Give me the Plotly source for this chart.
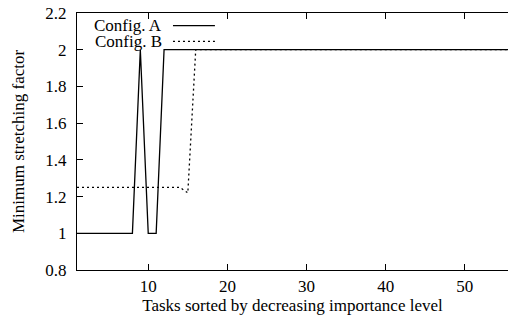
import plotly.graph_objects as go

tasks = list(range(1, 57))
config_a = [1]*8 + [2, 1, 1] + [2]*45
config_b = [1.25]*14 + [1.22] + [2]*41
series_names = ["Config. A", "Config. B"]
x_ticks = [10, 20, 30, 40, 50]
y_ticks = [0.8, 1.0, 1.2, 1.4, 1.6, 1.8, 2.0, 2.2]
y_tick_labels = ["0.8", "1", "1.2", "1.4", "1.6", "1.8", "2", "2.2"]

FONT = "Liberation Serif"
FS = 17

fig = go.Figure()
fig.add_trace(go.Scatter(x=tasks, y=config_a, mode="lines", name=series_names[0],
                         line=dict(color="black", width=1.3), showlegend=False))
fig.add_trace(go.Scatter(x=tasks, y=config_b, mode="lines", name=series_names[1],
                         line=dict(color="black", width=1.3, dash="2px,3px"), showlegend=False))

# manual gnuplot-style legend (text left, sample right)
leg_y = [0.9506, 0.8899]
for name, yy, dash in zip(series_names, leg_y, ["solid", "2px,3px"]):
    fig.add_annotation(x=0.2019, y=yy, xref="paper", yref="paper", text=name,
                       showarrow=False, xanchor="right", yanchor="middle",
                       font=dict(family=FONT, size=FS, color="black"))
    fig.add_shape(type="line", xref="paper", yref="paper", x0=0.2227, x1=0.320,
                  y0=yy, y1=yy, line=dict(color="black", width=1.3, dash=dash))

fig.update_layout(
    width=508, height=320,
    margin=dict(l=77, r=0, t=13, b=50),
    plot_bgcolor="white", paper_bgcolor="white",
    font=dict(family=FONT, size=FS, color="black"),
)
fig.update_xaxes(range=[1, 55.45], tickvals=x_ticks, ticks="inside", ticklen=6,
                 tickcolor="black", showline=True, linecolor="black", linewidth=1.3,
                 mirror="ticks", showgrid=False, zeroline=False, automargin=False,
                 title=dict(text="Tasks sorted by decreasing importance level", standoff=0,
                            font=dict(family=FONT, size=FS)),
                 tickfont=dict(family=FONT, size=FS))
fig.update_yaxes(range=[0.8, 2.2], tickvals=y_ticks, ticktext=y_tick_labels,
                 ticks="inside", ticklen=6, tickcolor="black", showline=True,
                 linecolor="black", linewidth=1.3, showgrid=False, zeroline=False,
                 ticklabelstandoff=6, automargin=False,
                 title=dict(text="Minimum stretching factor", standoff=16,
                            font=dict(family=FONT, size=FS)),
                 tickfont=dict(family=FONT, size=FS))

fig.write_html("out.html", config={"displayModeBar": False},
               post_script="document.body.style.margin='0';document.body.style.padding='0';")
